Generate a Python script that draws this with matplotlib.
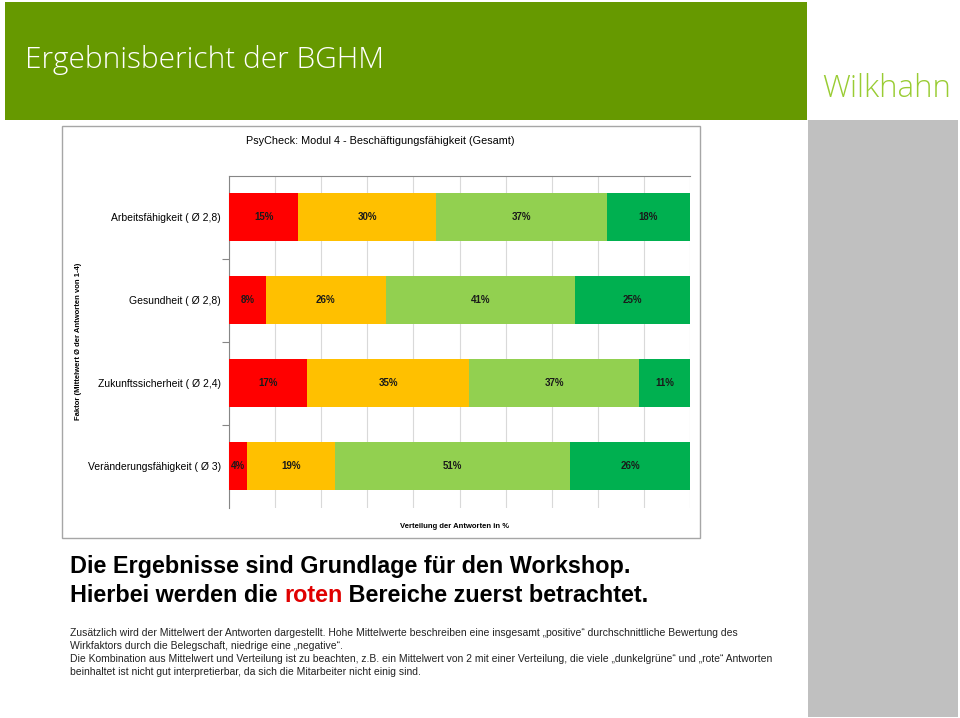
import numpy as np
import matplotlib
matplotlib.use("Agg")
import matplotlib.pyplot as plt
from matplotlib.patches import Rectangle

# data
categories = ["Arbeitsfähigkeit ( Ø 2,8)", "Gesundheit ( Ø 2,8)",
              "Zukunftssicherheit ( Ø 2,4)", "Veränderungsfähigkeit ( Ø 3)"]
red_share = [15, 8, 17, 4]
orange_share = [30, 26, 35, 19]
lightgreen_share = [37, 41, 37, 51]
darkgreen_share = [18, 25, 11, 26]
series = [red_share, orange_share, lightgreen_share, darkgreen_share]
series_colors = ["#FF0000", "#FFC000", "#92D050", "#00B050"]

W, H = 960, 718
fig = plt.figure(figsize=(W / 100, H / 100), dpi=100)
fig.patch.set_facecolor("white")

def fx(x):
    return x / W

def fy(y):
    return 1 - y / H

arial = ["Liberation Sans", "DejaVu Sans"]

# header banner and side bar
fig.add_artist(Rectangle((fx(5), fy(120)), fx(802), 118 / H, transform=fig.transFigure,
                         facecolor="#669900", edgecolor="none", zorder=-2))
fig.add_artist(Rectangle((fx(808), fy(717)), fx(150), 597 / H, transform=fig.transFigure,
                         facecolor="#C0C0C0", edgecolor="none", zorder=-2))
fig.text(fx(25), fy(60), "Ergebnisbericht der BGHM", color="white", fontsize=21.5,
         family=["Open Sans", "DejaVu Sans"], fontweight="light", va="center", ha="left")
fig.text(fx(822), fy(89), "Wilkhahn", color="#99CC33", fontsize=22.5,
         family=["Open Sans", "DejaVu Sans"], fontweight="light", va="center", ha="left")

# chart frame
fig.add_artist(Rectangle((fx(62), fy(538)), fx(638), 412 / H, transform=fig.transFigure,
                         facecolor="white", edgecolor="#A6A6A6", lw=1, zorder=-2))
fig.text(fx(380), fy(141), "PsyCheck: Modul 4 - Beschäftigungsfähigkeit (Gesamt)",
         fontsize=7.8, family=arial, ha="center", va="center")

ax = fig.add_axes([fx(229), fy(507.5), fx(461), 332 / H])
ax.set_zorder(3)
ax.patch.set_alpha(0)
y = np.arange(len(categories))
left = np.zeros(len(categories))
for vals, col in zip(series, series_colors):
    vals = np.array(vals)
    ax.barh(y, vals, left=left, height=0.59, color=col, edgecolor="none", zorder=3)
    for yi, l, v in zip(y, left, vals):
        ax.text(l + v / 2, yi, f"{v}%", ha="center", va="center", fontsize=7,
                fontweight="bold", family=arial, color="#1a1a1a", zorder=4)
    left += vals

ax.set_xlim(0, 100)
ax.set_ylim(3.5, -0.5)
ax.set_xticks(np.arange(0, 101, 10))
ax.set_xticklabels([])
ax.tick_params(axis="x", length=0)
ax.grid(axis="x", color="#D9D9D9", lw=0.8, zorder=0)
ax.set_yticks(y)
ax.set_yticklabels(categories, fontsize=7.5, family=arial)
ax.tick_params(axis="y", which="major", length=0, pad=6)
ax.set_yticks(np.arange(0.5, 3, 1), minor=True)
ax.tick_params(axis="y", which="minor", length=5, color="#868686", width=0.8)
for s in ["right", "bottom"]:
    ax.spines[s].set_visible(False)
for s in ["top", "left"]:
    ax.spines[s].set_color("#868686")
    ax.spines[s].set_linewidth(0.8)

fig.text(fx(78), fy(341), "Faktor (Mittelwert Ø der Antworten von 1-4)", rotation=90,
         fontsize=5.5, fontweight="bold", family=arial, ha="center", va="center")
fig.text(fx(455), fy(526), "Verteilung der Antworten in %", fontsize=5.5,
         fontweight="bold", family=arial, ha="center", va="center")

# headline below the chart
fig.text(fx(70), fy(566), "Die Ergebnisse sind Grundlage für den Workshop.", fontsize=16.8,
         family=arial, fontweight="bold", ha="left", va="center")
renderer = fig.canvas.get_renderer()
x0 = fx(70)
for part, col in [("Hierbei werden die ", "black"), ("roten", "#E00000"),
                  (" Bereiche zuerst betrachtet.", "black")]:
    t = fig.text(x0, fy(596), part, fontsize=16.8, family=arial, fontweight="bold",
                 color=col, ha="left", va="center")
    bb = t.get_window_extent(renderer=renderer)
    x0 = bb.x1 / W

notes = [
    "Zusätzlich wird der Mittelwert der Antworten dargestellt. Hohe Mittelwerte beschreiben eine insgesamt „positive“ durchschnittliche Bewertung des",
    "Wirkfaktors durch die Belegschaft, niedrige eine „negative“.",
    "Die Kombination aus Mittelwert und Verteilung ist zu beachten, z.B. ein Mittelwert von 2 mit einer Verteilung, die viele „dunkelgrüne“ und „rote“ Antworten",
    "beinhaltet ist nicht gut interpretierbar, da sich die Mitarbeiter nicht einig sind.",
]
for i, line in enumerate(notes):
    fig.text(fx(70), fy(633 + i * 13), line, fontsize=7.5, family=arial,
             color="#222222", ha="left", va="center")

fig.savefig("out.png", dpi=100)
